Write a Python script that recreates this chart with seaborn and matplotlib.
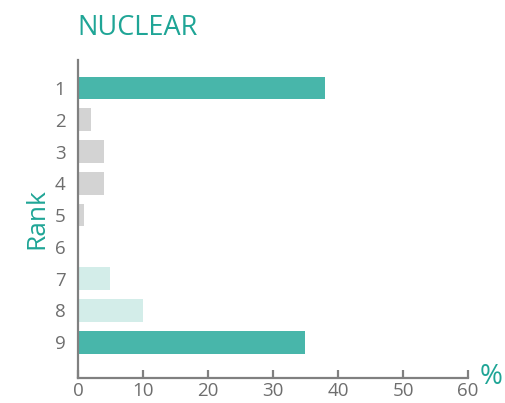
import numpy as np
import seaborn as sns
import matplotlib.pyplot as plt
import pandas as pd

ranks = ['1', '2', '3', '4', '5', '6', '7', '8', '9']
percent = [38, 2, 4, 4, 1, 0, 5, 10, 35]
bar_colors = ['#48b6aa', '#d3d3d3', '#d3d3d3', '#d3d3d3', '#d3d3d3',
              '#d3d3d3', '#d3ede9', '#d3ede9', '#48b6aa']
x_ticks = [0, 10, 20, 30, 40, 50, 60]

teal = '#1fa596'
grey = '#6e6e6e'


def nuclear_show():
    sns.set_style('white')
    plt.rcParams['font.family'] = ['Open Sans', 'DejaVu Sans']
    data = pd.DataFrame({'rank': ranks, 'percent': percent})

    fig = plt.figure(figsize=(5.06, 4.03), dpi=100)
    ax = fig.add_axes([0.154, 0.062, 0.771, 0.789])
    sns.barplot(data=data, x='percent', y='rank', hue='rank', palette=bar_colors,
                order=ranks, hue_order=ranks, orient='h', width=0.72,
                legend=False, ax=ax, saturation=1, linewidth=0)

    ax.set_xlim(0, 60)
    ax.set_ylim(9.13, -0.88)
    ax.set_xticks(x_ticks)
    ax.set_xlabel('')
    ax.set_ylabel('Rank', fontsize=19, color=teal, labelpad=4)
    ax.spines.right.set_visible(False)
    ax.spines.top.set_visible(False)
    for s in ['left', 'bottom']:
        ax.spines[s].set_color('#808080')
        ax.spines[s].set_linewidth(1.6)
    ax.tick_params(axis='x', direction='in', length=6, width=1.6, color='#808080',
                   labelsize=13.5, labelcolor=grey, pad=3, bottom=True)
    ax.tick_params(axis='y', length=0, labelsize=13.5, labelcolor=grey, pad=9)

    fig.text(0.152, 0.93, 'NUCLEAR', fontsize=19.5, color=teal, ha='left', va='center')
    fig.text(0.947, 0.064, '%', fontsize=20, color=teal, ha='left', va='center')

    plt.savefig('out.png', dpi=100)


if __name__ == '__main__':
    nuclear_show()
